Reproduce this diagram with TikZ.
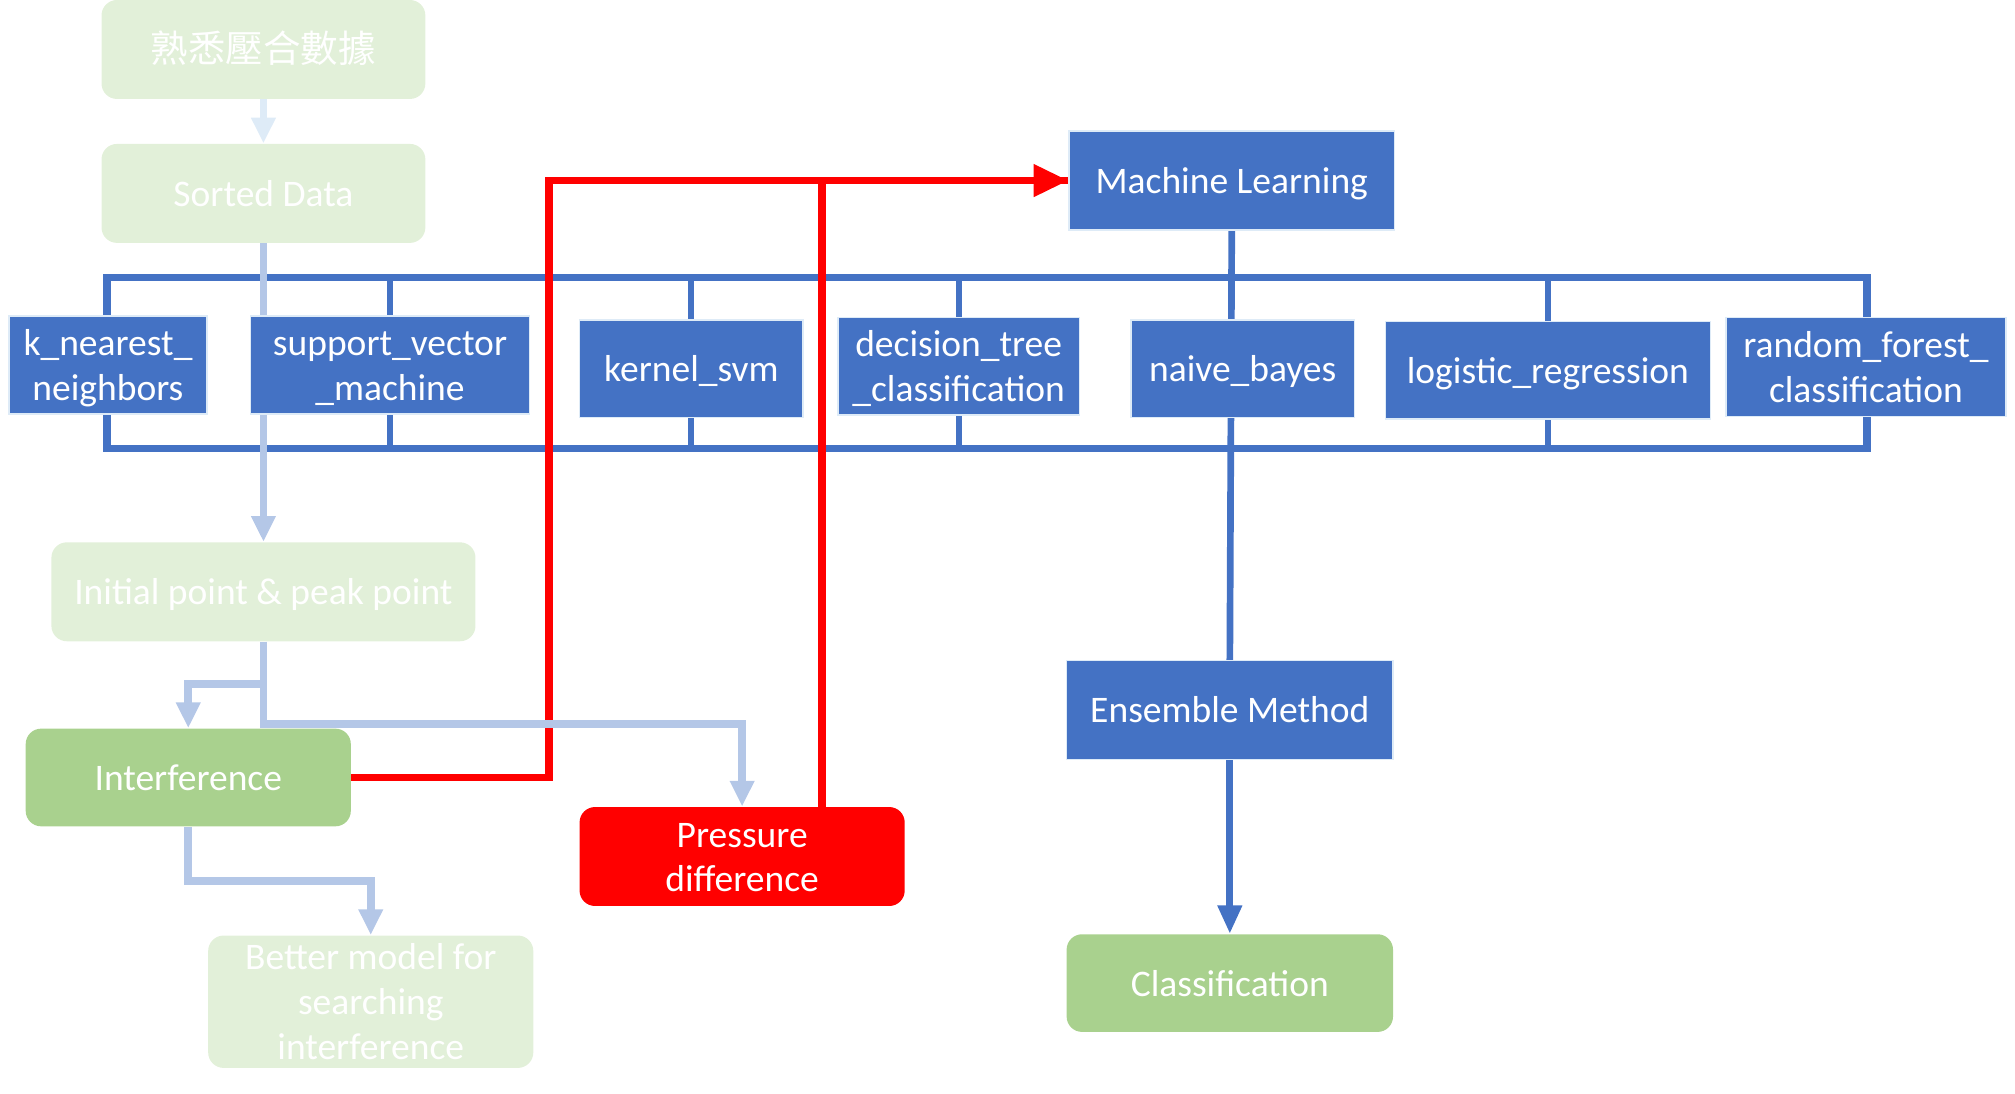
\documentclass[tikz,border=0pt]{standalone}
\usepackage{fontspec}
\setmainfont{Carlito}
\newfontfamily\cjk{Noto Sans CJK TC}
\usetikzlibrary{arrows.meta,backgrounds}

\definecolor{mlblue}{HTML}{4472C4}
\definecolor{leafgreen}{HTML}{A9D18E}
\definecolor{palegreen}{HTML}{E2F0D9}
\definecolor{paleblue}{HTML}{B4C7E7}
\definecolor{faintblue}{HTML}{DEEBF7}
\definecolor{hotred}{HTML}{FF0000}

\tikzset{
  box/.style={text=white, font=\fontsize{14.6}{17.5}\selectfont, align=center, inner sep=0pt,
    text height=13pt, text depth=2.9pt},
  twolines/.style={text height=30.5pt},
  threelines/.style={text height=48pt},
  algo/.style={box, rectangle, fill=mlblue, draw=faintblue, line width=0.6pt},
  soft/.style={box, rounded corners=6pt, fill=palegreen},
  leaf/.style={box, rounded corners=6pt, fill=leafgreen},
  alarm/.style={box, rounded corners=6pt, fill=hotred},
  bus/.style={mlblue, line width=3pt},
  stub/.style={mlblue, line width=2.3pt},
  flow/.style={paleblue, line width=3pt, -{Triangle[width=9pt,length=10pt]}},
  hot/.style={hotred, line width=3pt},
}

\begin{document}
\begin{tikzpicture}[x=0.5pt, y=-0.5pt]
    \useasboundingbox (0,0) rectangle (1568,851);

    % Columna de datos
    \node[soft, minimum width=126pt, minimum height=38.5pt] (fam) at (205,38.5) {\cjk 熟悉壓合數據};
    \node[soft, minimum width=126pt, minimum height=38.5pt] (sorted) at (205,150.5) {Sorted Data};
    \node[soft, minimum width=165pt, minimum height=38.5pt] (init) at (205,460.5) {Initial point \& peak point};
    \node[leaf, minimum width=126.5pt, minimum height=38pt] (intf) at (146.5,605) {Interference};
    \node[soft, threelines, minimum width=126.5pt, minimum height=51.5pt] (better) at (288.5,779.5) {Better model for\\searching\\interference};
    \node[alarm, twolines, minimum width=126.5pt, minimum height=38.5pt] (press) at (577.5,666.5) {Pressure\\difference};

    % Modelos
    \node[algo, minimum width=126.5pt, minimum height=38.5pt] (ml) at (958.5,140.5) {Machine Learning};
    \node[algo, twolines, minimum width=77pt, minimum height=38pt] (knn) at (84,284) {k\_nearest\_\\neighbors};
    \node[algo, twolines, minimum width=108.5pt, minimum height=38pt] (svm) at (303.5,284) {support\_vector\\\_machine};
    \node[algo, minimum width=87pt, minimum height=38pt] (ksvm) at (538,287) {kernel\_svm};
    \node[algo, twolines, minimum width=94pt, minimum height=38pt] (dtree) at (746,285) {decision\_tree\\\_classification};
    \node[algo, minimum width=87pt, minimum height=38pt] (nb) at (967,287) {naive\_bayes};
    \node[algo, minimum width=126.5pt, minimum height=38pt] (lr) at (1204.5,288) {logistic\_regression};
    \node[algo, twolines, minimum width=109pt, minimum height=38.5pt] (rf) at (1452,285.5) {random\_forest\_\\classification};
    \node[algo, minimum width=127pt, minimum height=38.5pt] (ens) at (957,552.5) {Ensemble Method};
    \node[leaf, minimum width=127pt, minimum height=38pt] (cls) at (957,765) {Classification};

    \begin{scope}[on background layer]
        % Marco de los clasificadores
        \coordinate (busnw) at (83,216);
        \coordinate (busse) at (1453,349);
        \draw[bus] (busnw) rectangle (busse);
        \foreach \n in {svm,ksvm,dtree,lr} {
            \draw[stub] (\n.north) -- (\n.north |- busnw);
            \draw[stub] (\n.south) -- (\n.south |- busse);
        }
        \draw[stub, line width=2.6pt] (ml.south) -- (ens.north);
        \draw[stub, line width=2.6pt, -{Triangle[width=9pt,length=11pt]}] (ens.south) -- (cls.north);

        % Caminos en rojo
        \draw[hot] (intf.east) -- ++(154,0) |- (ml.west);
        \draw[hot, -{Triangle[width=12pt,length=13.5pt]}] ([xshift=31pt]press.north) |- (ml.west);

        % Flujo de datos
        \draw[flow, faintblue] (fam) -- (sorted);
        \draw[flow] (sorted) -- (init);
        \draw[flow] (init.south) -- ++(0,33) -| (intf.north);
        \draw[flow] (init.south) -- ++(0,64) -| (press.north);
        \draw[flow] (intf.south) -- ++(0,42) -| (better.north);
    \end{scope}
\end{tikzpicture}
\end{document}
